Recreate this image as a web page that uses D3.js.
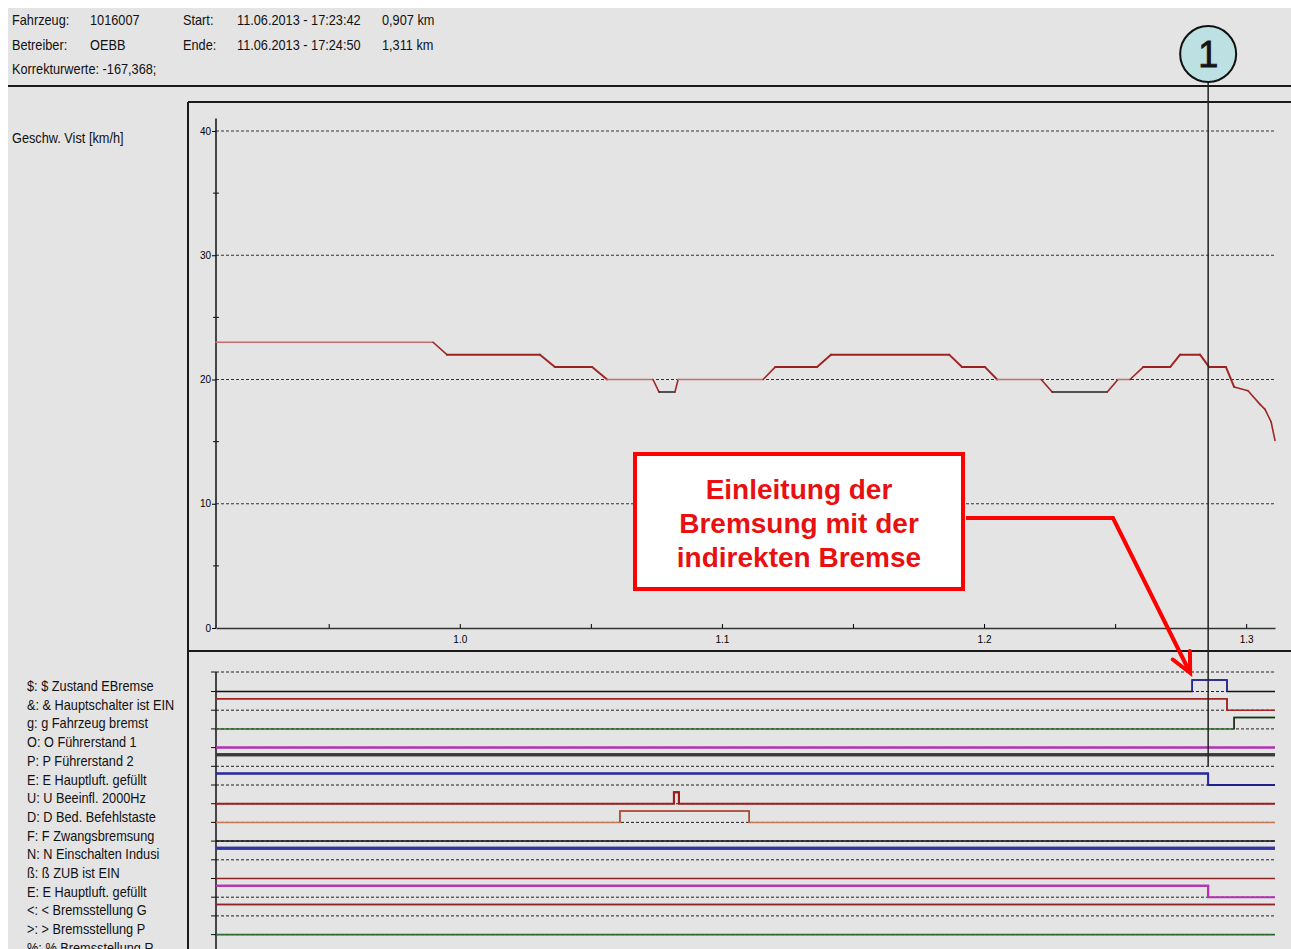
<!DOCTYPE html>
<html>
<head>
<meta charset="utf-8">
<script src="https://cdn.jsdelivr.net/npm/d3@7"></script>
<style>
	body { margin: 0; background: #ffffff; }
	text { font-family: "Liberation Sans Narrow", "Liberation Sans", Arial, sans-serif; }
</style>
</head>
<body>
<svg id="chart" width="1291" height="949"></svg>
<script>

// header of the recording
var headerLeft = [["Fahrzeug:", "1016007"], ["Betreiber:", "OEBB"]];
var headerRight = [["Start:", "11.06.2013 - 17:23:42", "0,907 km"],
				   ["Ende:", "11.06.2013 - 17:24:50", "1,311 km"]];
var headerNote = "Korrekturwerte: -167,368;";

// distance range in km
var kmStart = 0.907;
var kmEnd = 1.311;
var kmTicks = [0.95, 1.0, 1.05, 1.1, 1.15, 1.2, 1.25, 1.3];
var kmLabels = [1.0, 1.1, 1.2, 1.3];

// speed curve
var speedLabel = "Geschw. Vist [km/h]";
var speedTicks = [0, 10, 20, 30, 40];
var speedMinorTicks = [5, 15, 25, 35];
var speedKm = [0.907, 0.9898, 0.9951, 1.0306, 1.0363, 1.0505, 1.0562, 1.0737,
			   1.0760, 1.0821, 1.0833, 1.1157, 1.1203, 1.1363, 1.1416, 1.1867,
			   1.1916, 1.2004, 1.2050, 1.2218, 1.2260, 1.2470, 1.2511, 1.2557,
			   1.2607, 1.2710, 1.2748, 1.2824, 1.2859, 1.2923, 1.2954, 1.3007,
			   1.3053, 1.3072, 1.3095, 1.311];
var speedKmh = [23, 23, 22, 22, 21, 21, 20, 20, 19, 19, 20, 20, 21, 21, 22, 22,
				21, 21, 20, 20, 19, 19, 20, 20, 21, 21, 22, 22, 21, 21, 19.4, 19.1,
				18.0, 17.6, 16.6, 15.1];

// binary signals, with the km intervals where each one is high
var signalLabels = ["$: $ Zustand EBremse", "&: & Hauptschalter ist EIN",
					"g: g Fahrzeug bremst", "O: O Führerstand 1",
					"P: P Führerstand 2", "E: E Hauptluft. gefüllt",
					"U: U Beeinfl. 2000Hz", "D: D Bed. Befehlstaste",
					"F: F Zwangsbremsung", "N: N Einschalten Indusi",
					"ß: ß ZUB ist EIN", "E: E Hauptluft. gefüllt",
					"<: < Bremsstellung G", ">: > Bremsstellung P",
					"%: % Bremsstellung R"];
var signalHigh = [[[1.2794, 1.2927]], [[0.907, 1.2927]], [[1.2954, 1.311]], [],
				  [[0.907, 1.311]], [[0.907, 1.2855]], [[1.0817, 1.0836]],
				  [[1.0611, 1.1104]], [], [[0.907, 1.311]], [],
				  [[0.907, 1.2855]], [[0.907, 1.311]], [], []];

// cursor and annotation
var cursorKm = 1.2855;
var cursorLabel = "1";
var noteLines = ["Einleitung der", "Bremsung mit der", "indirekten Bremse"];

// styles of the signal traces
var lowColours = ["#111111", "#a02424", "#2e6a2e", "#b232b2", "#3a3a3a", "#20208a",
				  "#a01c1c", "#c47a52", "#111111", "#3434a4", "#902424", "#b232b2",
				  "#902424", "#2e6a2e", "#555555"];
var highColours = ["#2a2aa8", "#a02424", "#1c2e1c", "#b232b2", "#3a3a3a", "#2828a0",
				   "#a01c1c", "#a84632", "#111111", "#3434a4", "#902424", "#b232b2",
				   "#902424", "#2e6a2e", "#555555"];
var lineWidths = [1.5, 1.5, 1.5, 2.5, 3, 1.8, 2, 1.5, 1.5, 3, 1.5, 2, 1.5, 1.8, 1.5];

// the recorder uses a narrow font, so texts are squeezed
var squeeze = 0.91;


var svg = d3.select("#chart");

var x = d3.scaleLinear().domain([kmStart, kmEnd]).range([216, 1275]);
var y = d3.scaleLinear().domain([0, 40]).range([628, 131]);
var channel = d3.scalePoint()
				.domain(d3.range(signalLabels.length))
				.range([686, 686 + 18.7 * (signalLabels.length - 1)]);

function lowY(i) { return channel(i) + 5.5; }
function highY(i) { return channel(i) - 6; }


// narrow text placed at px, py
function narrowText(parent, px, py, str) {
	return parent.append("text")
			.attr("transform", "translate(" + px + "," + py + ") scale(" + squeeze + ",1)")
			.style("font-size", "14px")
			.style("fill", "#111")
			.text(str);
}


function drawFrame() {

	svg.append("rect")
		.attr("x", 8).attr("y", 8)
		.attr("width", 1283).attr("height", 941)
		.style("fill", "#e4e4e4");

	var frame = svg.append("g")
				.style("stroke", "#1a1a1a")
				.style("stroke-width", 2);

	frame.append("line").attr("x1", 8).attr("x2", 1291).attr("y1", 86).attr("y2", 86);
	frame.append("line").attr("x1", 188).attr("x2", 1291).attr("y1", 102).attr("y2", 102);
	frame.append("line").attr("x1", 188).attr("x2", 188).attr("y1", 102).attr("y2", 949);
	frame.append("line").attr("x1", 188).attr("x2", 1291).attr("y1", 651).attr("y2", 651);
}


function drawHeader() {

	var header = svg.append("g");

	headerLeft.forEach(function(row, i) {
		narrowText(header, 12, 25 + i * 25, row[0]);
		narrowText(header, 90, 25 + i * 25, row[1]);
	});

	headerRight.forEach(function(row, i) {
		narrowText(header, 183, 25 + i * 25, row[0]);
		narrowText(header, 237, 25 + i * 25, row[1]);
		narrowText(header, 382, 25 + i * 25, row[2]);
	});

	narrowText(header, 12, 74, headerNote);
}


function drawSpeed() {

	var g = svg.append("g");

	// dotted grid
	g.append("g")
		.selectAll("line")
		.data(speedTicks.slice(1))
		.enter().append("line")
		.attr("x1", x(kmStart)).attr("x2", x(kmEnd))
		.attr("y1", function(d) { return y(d); })
		.attr("y2", function(d) { return y(d); })
		.style("stroke", "#333")
		.style("stroke-dasharray", "3,2");

	// y axis
	var yAxis = g.append("g")
				.attr("transform", "translate(" + x(kmStart) + ",0)")
				.call(d3.axisLeft(y).tickValues(speedTicks).tickSize(4).tickPadding(1));
	yAxis.select(".domain").remove();
	yAxis.selectAll("text").style("font-size", "10px").style("font-family", "Liberation Sans, Arial");

	g.append("line")
		.attr("x1", x(kmStart)).attr("x2", x(kmStart))
		.attr("y1", y(0)).attr("y2", y(41))
		.style("stroke", "#111").style("stroke-width", 1.5);

	g.append("g")
		.selectAll("line")
		.data(speedMinorTicks)
		.enter().append("line")
		.attr("x1", x(kmStart) - 3).attr("x2", x(kmStart) + 3)
		.attr("y1", function(d) { return y(d); })
		.attr("y2", function(d) { return y(d); })
		.style("stroke", "#111");

	// x axis
	var xAxis = g.append("g")
				.attr("transform", "translate(0," + y(0) + ")")
				.call(d3.axisBottom(x)
					.tickValues(kmTicks)
					.tickSizeInner(-4)
					.tickSizeOuter(0)
					.tickPadding(8)
					.tickFormat(function(d) {
						return kmLabels.indexOf(d) >= 0 ? d3.format(".1f")(d) : ""; }));
	xAxis.select(".domain").style("stroke", "#333").style("stroke-width", 1.5);
	xAxis.selectAll("text").style("font-size", "10px").style("font-family", "Liberation Sans, Arial");

	// speed curve, one piece per step so the levels keep their shade
	g.append("g")
		.selectAll("line")
		.data(d3.range(speedKm.length - 1))
		.enter().append("line")
		.attr("x1", function(i) { return x(speedKm[i]); })
		.attr("x2", function(i) { return x(speedKm[i + 1]); })
		.attr("y1", function(i) { return y(speedKmh[i]); })
		.attr("y2", function(i) { return y(speedKmh[i + 1]); })
		.style("stroke", function(i) {
			if (speedKmh[i] != speedKmh[i + 1]) return "#a02626";
			if (speedKmh[i] == 19) return "#222";
			if (speedKmh[i] == 23 || speedKmh[i] == 20) return "#c46e6e";
			return "#9c2222"; })
		.style("stroke-width", function(i) {
			return (speedKmh[i] == 22 || speedKmh[i] == 21) ? 2 : 1.6; })
		.style("stroke-linecap", "round");

	narrowText(svg, 12, 143, speedLabel);
}


// turns the high intervals of one signal into step points
function statePoints(intervals) {

	var breaks = [kmStart, kmEnd];
	intervals.forEach(function(d) { breaks.push(d[0], d[1]); });
	breaks = Array.from(new Set(breaks)).sort(d3.ascending);

	var points = [];
	for (var j = 0; j < breaks.length - 1; j++) {
		var mid = (breaks[j] + breaks[j + 1]) / 2;
		var high = intervals.some(function(d) { return mid > d[0] && mid < d[1]; });
		points.push([breaks[j], high]);
	}
	points.push([kmEnd, points[points.length - 1][1]]);
	return points;
}


function drawSignals() {

	var g = svg.append("g");

	// dotted reference lines
	var refs = [channel(0) - 14].concat(d3.range(signalLabels.length).map(lowY));
	g.append("g")
		.selectAll("line")
		.data(refs)
		.enter().append("line")
		.attr("x1", x(kmStart)).attr("x2", x(kmEnd))
		.attr("y1", function(d) { return d; })
		.attr("y2", function(d) { return d; })
		.style("stroke", "#222")
		.style("stroke-dasharray", "3,2");

	// axis with a tick per channel
	g.append("line")
		.attr("x1", x(kmStart)).attr("x2", x(kmStart))
		.attr("y1", channel(0) - 14).attr("y2", 949)
		.style("stroke", "#111").style("stroke-width", 1.5);

	g.append("g")
		.selectAll("line")
		.data(refs)
		.enter().append("line")
		.attr("x1", x(kmStart) - 5).attr("x2", x(kmStart))
		.attr("y1", function(d) { return d; })
		.attr("y2", function(d) { return d; })
		.style("stroke", "#111");

	signalLabels.forEach(function(label, i) {

		var step = d3.line()
					.x(function(d) { return x(d[0]); })
					.y(function(d) { return d[1] ? highY(i) : lowY(i); })
					.curve(d3.curveStepAfter);

		g.append("path")
			.attr("d", step(statePoints(signalHigh[i])))
			.style("fill", "none")
			.style("stroke", lowColours[i])
			.style("stroke-width", lineWidths[i]);

		// high parts in their own colour
		signalHigh[i].forEach(function(d) {
			var pts = [];
			if (d[0] > kmStart) pts.push([d[0], lowY(i)]);
			pts.push([d[0], highY(i)], [d[1], highY(i)]);
			if (d[1] < kmEnd) pts.push([d[1], lowY(i)]);
			g.append("path")
				.attr("d", d3.line().x(function(p) { return x(p[0]); })
									.y(function(p) { return p[1]; })(pts))
				.style("fill", "none")
				.style("stroke", highColours[i])
				.style("stroke-width", lineWidths[i]);
		});

		narrowText(svg, 27, channel(i) + 5, label);
	});
}


function drawCursor() {

	var cx = x(cursorKm);

	svg.append("line")
		.attr("x1", cx).attr("x2", cx)
		.attr("y1", 80).attr("y2", lowY(4))
		.style("stroke", "#222")
		.style("stroke-width", 1.5);

	svg.append("circle")
		.attr("cx", cx).attr("cy", 54).attr("r", 28)
		.style("fill", "#bde0e2")
		.style("stroke", "#111")
		.style("stroke-width", 2);

	svg.append("text")
		.attr("x", cx).attr("y", 67)
		.attr("text-anchor", "middle")
		.style("font-family", "Liberation Sans, Arial")
		.style("font-size", "36px")
		.style("fill", "#141414")
		.style("stroke", "#141414")
		.style("stroke-width", 0.8)
		.text(cursorLabel);
}


function drawNote() {

	var g = svg.append("g");

	// arrow from the box to the start of the braking pulse
	var tipX = x(signalHigh[0][0][0]) - 2;
	var tipY = highY(0) - 7;
	var bend = [1113, 518];
	g.append("path")
		.attr("d", d3.line()([[966, 518], bend, [tipX, tipY]]))
		.style("fill", "none")
		.style("stroke", "#ff0000")
		.style("stroke-width", 4)
		.style("stroke-linejoin", "miter");

	var ang = Math.atan2(tipY - bend[1], tipX - bend[0]);
	var head = [-0.45, 0.45].map(function(a) {
		return [tipX - 22 * Math.cos(ang + a), tipY - 22 * Math.sin(ang + a)]; });
	g.append("path")
		.attr("d", d3.line()([head[0], [tipX, tipY], head[1]]))
		.style("fill", "none")
		.style("stroke", "#ff0000")
		.style("stroke-width", 4)
		.style("stroke-linecap", "round");

	g.append("rect")
		.attr("x", 635).attr("y", 454)
		.attr("width", 328).attr("height", 135)
		.style("fill", "#ffffff")
		.style("stroke", "#ff0000")
		.style("stroke-width", 4);

	g.selectAll(".note")
		.data(noteLines)
		.enter().append("text")
		.attr("class", "note")
		.attr("x", 799)
		.attr("y", function(d, i) { return 499 + i * 34; })
		.attr("text-anchor", "middle")
		.style("font-family", "Liberation Sans, Arial")
		.style("font-size", "28px")
		.style("font-weight", "bold")
		.style("fill", "#e81010")
		.text(function(d) { return d; });
}


drawFrame();
drawHeader();
drawSpeed();
drawSignals();
drawCursor();
drawNote();

</script>
</body>
</html>
